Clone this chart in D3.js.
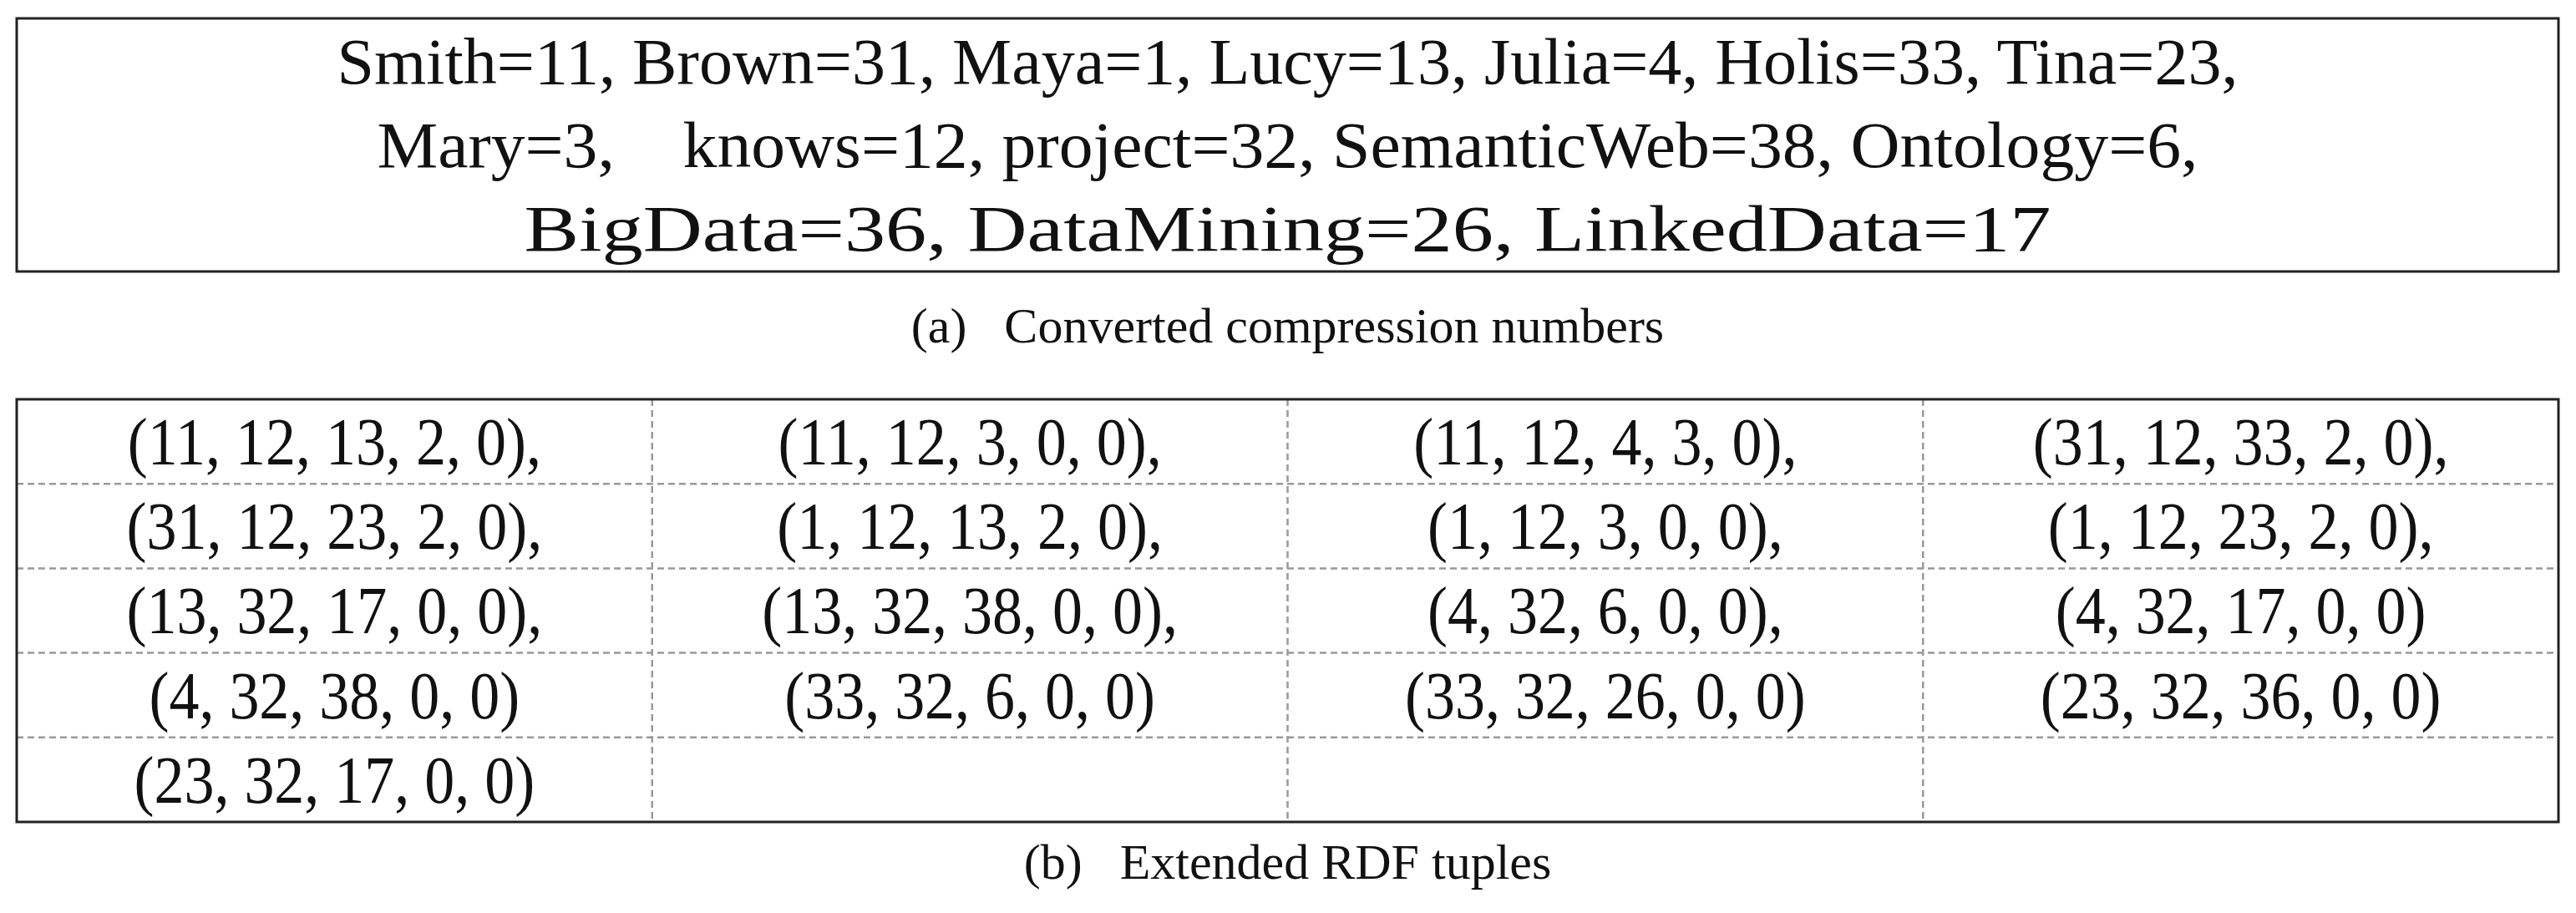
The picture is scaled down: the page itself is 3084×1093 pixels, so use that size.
<!DOCTYPE html>
<html><head><meta charset="utf-8">
<script src="https://cdn.jsdelivr.net/npm/d3@7"></script>
<style>body{margin:0;background:#fff}svg{display:block}text{white-space:pre}</style>
</head><body>
<script>
const mappingLines = [
  "Smith=11, Brown=31, Maya=1, Lucy=13, Julia=4, Holis=33, Tina=23,",
  "Mary=3,    knows=12, project=32, SemanticWeb=38, Ontology=6,",
  "BigData=36, DataMining=26, LinkedData=17"
];
const lineWidths = [2276, 2180, 1828];
const tuples = [
  "(11, 12, 13, 2, 0),","(11, 12, 3, 0, 0),","(11, 12, 4, 3, 0),","(31, 12, 33, 2, 0),",
  "(31, 12, 23, 2, 0),","(1, 12, 13, 2, 0),","(1, 12, 3, 0, 0),","(1, 12, 23, 2, 0),",
  "(13, 32, 17, 0, 0),","(13, 32, 38, 0, 0),","(4, 32, 6, 0, 0),","(4, 32, 17, 0, 0)",
  "(4, 32, 38, 0, 0)","(33, 32, 6, 0, 0)","(33, 32, 26, 0, 0)","(23, 32, 36, 0, 0)",
  "(23, 32, 17, 0, 0)"
];
const captions = ["(a)   Converted compression numbers", "(b)   Extended RDF tuples"];
const nCols = 4, nRows = 5;

(function(){
const W = 3084, H = 1093;
const svg = d3.select("body").append("svg").attr("width", W).attr("height", H);
const font = "'Liberation Serif', 'DejaVu Serif', serif";
const L = 20, R = 3063;

svg.append("rect").attr("x", L).attr("y", 22).attr("width", R - L).attr("height", 303)
  .attr("fill", "none").attr("stroke", "#222").attr("stroke-width", 3);
const ya = d3.scaleBand().domain(d3.range(3)).range([22, 325]).padding(0.02);
svg.selectAll("text.m").data(mappingLines).join("text").attr("class", "m")
  .attr("x", (L + R) / 2).attr("y", (d, i) => ya(i) + ya.bandwidth() / 2)
  .attr("text-anchor", "middle").attr("dominant-baseline", "central")
  .attr("font-family", font).attr("font-size", 78).attr("fill", "#111")
  .attr("textLength", (d, i) => lineWidths[i]).attr("lengthAdjust", "spacingAndGlyphs")
  .text(d => d);

svg.append("text").attr("x", (L + R) / 2).attr("y", 390).attr("text-anchor", "middle")
  .attr("dominant-baseline", "central").attr("font-family", font).attr("font-size", 60)
  .attr("fill", "#111").text(captions[0]);

const yTop = 478, yBot = 984;
const x = d3.scaleLinear().domain([0, nCols]).range([L, R]);
const y = d3.scaleLinear().domain([0, nRows]).range([yTop, yBot]);
const g = svg.append("g");
g.selectAll("line.h").data(d3.range(1, nRows)).join("line")
  .attr("x1", L).attr("x2", R).attr("y1", d => y(d)).attr("y2", d => y(d))
  .attr("stroke", "#999").attr("stroke-width", 2.5).attr("stroke-dasharray", "8,5");
g.selectAll("line.v").data(d3.range(1, nCols)).join("line")
  .attr("y1", yTop).attr("y2", yBot).attr("x1", d => x(d)).attr("x2", d => x(d))
  .attr("stroke", "#999").attr("stroke-width", 2.5).attr("stroke-dasharray", "8,5");
g.append("rect").attr("x", L).attr("y", yTop).attr("width", R - L).attr("height", yBot - yTop)
  .attr("fill", "none").attr("stroke", "#222").attr("stroke-width", 3);
g.selectAll("text.t").data(tuples).join("text").attr("class", "t")
  .attr("x", (d, i) => x(i % nCols + 0.5)).attr("y", (d, i) => y(Math.floor(i / nCols) + 0.5))
  .attr("text-anchor", "middle").attr("dominant-baseline", "central")
  .attr("font-family", font).attr("font-size", 80).attr("fill", "#111")
  .attr("transform", (d, i) => `translate(${x(i % nCols + 0.5)},0) scale(0.9,1) translate(${-x(i % nCols + 0.5)},0)`)
  .text(d => d);

svg.append("text").attr("x", (L + R) / 2).attr("y", 1032).attr("text-anchor", "middle")
  .attr("dominant-baseline", "central").attr("font-family", font).attr("font-size", 60)
  .attr("fill", "#111").text(captions[1]);
})();
</script>
</body></html>
